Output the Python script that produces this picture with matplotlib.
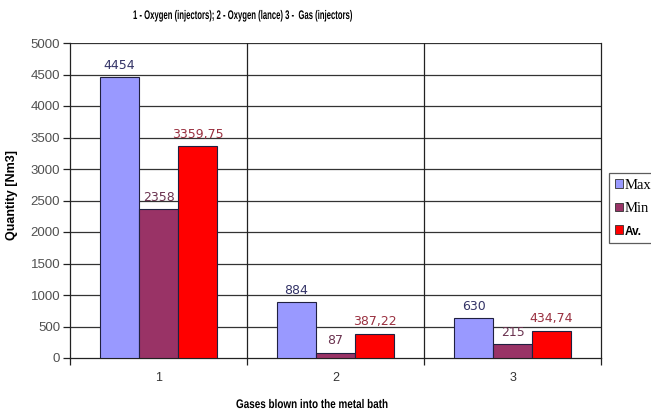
import matplotlib
matplotlib.use("Agg")
import matplotlib.pyplot as plt
import numpy as np
from matplotlib.patches import Patch
from matplotlib.patheffects import AbstractPathEffect
from matplotlib.transforms import Affine2D

categories = ["1", "2", "3"]
max_vals = [4454, 884, 630]
min_vals = [2358, 87, 215]
av_vals = [3359.75, 387.22, 434.74]
series_names = ["Max", "Min", "Av."]
y_ticks = [0, 500, 1000, 1500, 2000, 2500, 3000, 3500, 4000, 4500, 5000]

title_text = "1 - Oxygen (injectors); 2 - Oxygen (lance) 3 -  Gas (injectors)"
xlabel_text = "Gases blown into the metal bath"
ylabel_text = "Quantity [Nm3]"

bar_colors = ["#9999FF", "#993366", "#FF0000"]
label_colors = ["#333366", "#6B3350", "#9A3040"]


class HSqueeze(AbstractPathEffect):
    """Narrow a text horizontally about a fixed x position (display units)."""

    def __init__(self, sx, cx):
        super().__init__()
        self._sx = sx
        self._cx = cx

    def draw_path(self, renderer, gc, tpath, affine, rgbFace=None):
        tr = affine + Affine2D().translate(-self._cx, 0).scale(self._sx, 1) \
            .translate(self._cx, 0)
        renderer.draw_path(gc, tpath, tr, rgbFace)


def fmt(v):
    if float(v).is_integer():
        return f"{int(v)}"
    return f"{v:.2f}".replace(".", ",")


fig = plt.figure(figsize=(6.51, 4.17), dpi=100)
ax = fig.add_axes([70 / 651, 1 - 358 / 417, 531 / 651, 315 / 417])

x = np.arange(len(categories))
w = 0.22
series = [max_vals, min_vals, av_vals]
for i, vals in enumerate(series):
    pos = x + (i - 1) * w
    ax.bar(pos, vals, width=w, color=bar_colors[i], edgecolor="#202040",
           linewidth=0.8, zorder=3)
    for px, v in zip(pos, vals):
        ax.text(px, v + 90, fmt(v), ha="center", va="bottom", fontsize=9,
                color=label_colors[i], family="DejaVu Sans", zorder=4)

ax.set_xlim(-0.5, 2.5)
ax.set_ylim(0, 5000)
ax.set_yticks(y_ticks)
ax.set_yticklabels([str(t) for t in y_ticks], fontsize=9.5, color="#505050",
                   family="Liberation Sans")

# category ticks on the group boundaries, labels at the centres
ax.set_xticks([-0.5, 0.5, 1.5, 2.5])
ax.set_xticklabels([])
ax.set_xticks(x, minor=True)
ax.set_xticklabels(categories, minor=True, fontsize=9, color="#333333",
                   family="Liberation Sans")
ax.tick_params(axis="x", which="minor", length=0, pad=10)
ax.tick_params(axis="x", which="major", length=5, width=0.9, color="#222222")
ax.tick_params(axis="y", length=5, width=0.9, color="#222222", pad=2)

for yv in y_ticks[1:]:
    ax.axhline(yv, color="#333333", linewidth=0.9, zorder=1)
for xv in [0.5, 1.5]:
    ax.axvline(xv, color="#222222", linewidth=0.9, zorder=1)

ax.spines["top"].set_visible(False)
for side in ["left", "bottom", "right"]:
    ax.spines[side].set_color("#222222")
    ax.spines[side].set_linewidth(0.9)

title = fig.text(243 / 651, 1 - 16 / 417, title_text, ha="center",
                 va="center", fontsize=9, fontweight="bold",
                 family="Liberation Sans")
xlab = fig.text(312 / 651, 1 - 405 / 417, xlabel_text, ha="center",
                va="center", fontsize=9, fontweight="bold",
                family="Liberation Sans")
ylab = fig.text(12 / 651, 1 - 195 / 417, ylabel_text, rotation=90,
                ha="center", va="center", fontsize=8, fontweight="bold",
                family="Liberation Sans")

handles = [Patch(facecolor=c, edgecolor="#303030", linewidth=0.6)
           for c in bar_colors]
leg = fig.legend(handles, series_names, loc="upper left",
                 bbox_to_anchor=(609 / 651, 1 - 173 / 417),
                 frameon=True, fancybox=False, fontsize=10,
                 handlelength=0.6, handleheight=0.6, handletextpad=0.15,
                 borderpad=0.4, labelspacing=0.75, borderaxespad=0)
leg.get_frame().set_edgecolor("#333333")
leg.get_frame().set_linewidth(0.9)
texts = leg.get_texts()
for t in texts[:2]:
    t.set_family("Liberation Serif")
    t.set_fontsize(10.5)
texts[2].set_family("Liberation Sans")
texts[2].set_fontweight("bold")
texts[2].set_fontsize(8.5)

# size the axis titles: the y label by font size, the others narrowed
fig.canvas.draw()
bb = ylab.get_window_extent()
ylab.set_fontsize(8 * 90 / bb.height)

for txt, target in [(title, 220), (xlab, 152)]:
    fig.canvas.draw()
    bb = txt.get_window_extent()
    txt.set_path_effects([HSqueeze(target / bb.width, (bb.x0 + bb.x1) / 2)])

fig.savefig("out.png", dpi=100)
